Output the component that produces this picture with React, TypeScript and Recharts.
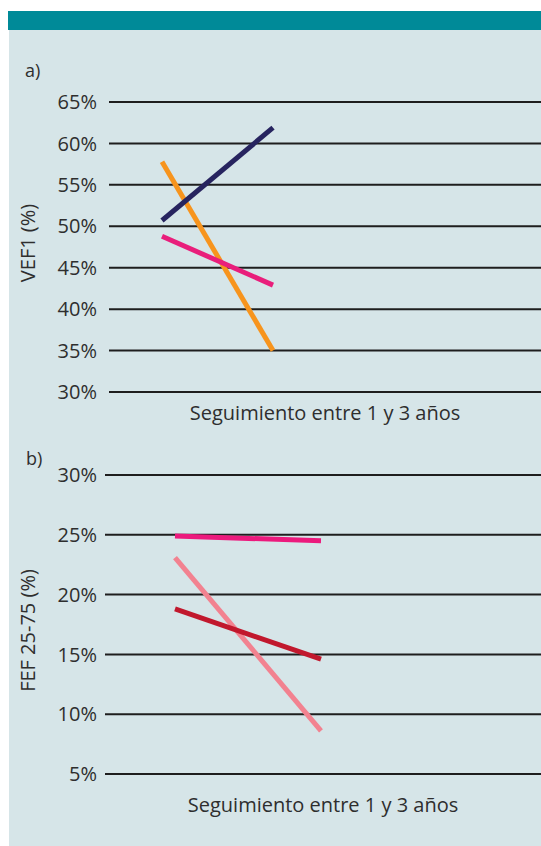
import { LineChart, Line, XAxis, YAxis, CartesianGrid } from 'recharts'

// follow-up points (start / end of the 1-3 year follow-up)
const periods = ['Inicio', 'Final']

// a) VEF1 (%)
const vefNavy = [50.7, 61.9]
const vefOrange = [57.8, 35.0]
const vefPink = [48.8, 42.9]
const vefTicks = [30, 35, 40, 45, 50, 55, 60, 65]

// b) FEF 25-75 (%)
const fefPink = [24.9, 24.5]
const fefLight = [23.1, 8.6]
const fefDark = [18.8, 14.6]
const fefTicks = [5, 10, 15, 20, 25, 30]

const FONT = '"Open Sans", Lato, sans-serif'
const TEXT = '#2e2e2e'
const BG = '#d6e5e8'

const vefData = periods.map((p, i) => ({ p, navy: vefNavy[i], orange: vefOrange[i], pink: vefPink[i] }))
const fefData = periods.map((p, i) => ({ p, pink: fefPink[i], light: fefLight[i], dark: fefDark[i] }))

const tickStyle = { fontSize: 20, fill: TEXT, fontFamily: FONT }
const titleStyle = { fontSize: 20, fill: TEXT, fontFamily: FONT }
const fmt = (v: number) => `${v}%`

const lineProps = {
  type: 'linear' as const,
  strokeWidth: 5,
  strokeLinecap: 'butt' as const,
  dot: false,
  activeDot: false,
  isAnimationActive: false,
}

export default function App() {
  return (
    <div style={{ position: 'absolute', left: 0, top: 0, width: 541, height: 846, fontFamily: FONT }}>
      <div style={{ position: 'absolute', left: 9, top: 30, width: 532, height: 816, background: BG }} />
      <div style={{ position: 'absolute', left: 8, top: 11, width: 533, height: 19, background: '#008a98' }} />
      <div style={{ position: 'absolute', left: 25, top: 58, fontSize: 18, color: TEXT }}>a)</div>
      <div style={{ position: 'absolute', left: 26, top: 446, fontSize: 18, color: TEXT }}>b)</div>

      <div style={{ position: 'absolute', left: 0, top: 60 }}>
        <LineChart width={541} height={400} data={vefData} margin={{ top: 42, right: 0, bottom: 26, left: 0 }}>
          <CartesianGrid vertical={false} stroke="#1e1e1e" strokeWidth={2} />
          <XAxis
            dataKey="p"
            tick={false}
            axisLine={false}
            tickLine={false}
            height={42}
            padding={{ left: 53, right: 268 }}
            label={{ value: 'Seguimiento entre 1 y 3 años', position: 'center', ...titleStyle }}
          />
          <YAxis
            width={109}
            domain={[30, 65]}
            ticks={vefTicks}
            tickFormatter={fmt}
            tick={tickStyle}
            axisLine={false}
            tickLine={false}
            tickSize={0}
            tickMargin={12}
            label={{ value: 'VEF1 (%)', angle: -90, position: 'center', dx: -27, dy: -4, ...titleStyle }}
          />
          <Line dataKey="orange" stroke="#f7941d" {...lineProps} />
          <Line dataKey="pink" stroke="#e91e7b" {...lineProps} />
          <Line dataKey="navy" stroke="#27245f" {...lineProps} />
        </LineChart>
      </div>

      <div style={{ position: 'absolute', left: 0, top: 440 }}>
        <LineChart width={541} height={406} data={fefData} margin={{ top: 35, right: 0, bottom: 10, left: 0 }}>
          <CartesianGrid vertical={false} stroke="#1e1e1e" strokeWidth={2} />
          <XAxis
            dataKey="p"
            tick={false}
            axisLine={false}
            tickLine={false}
            height={62}
            padding={{ left: 70, right: 220 }}
            label={{ value: 'Seguimiento entre 1 y 3 años', position: 'center', ...titleStyle }}
          />
          <YAxis
            width={105}
            domain={[5, 30]}
            ticks={fefTicks}
            tickFormatter={fmt}
            tick={tickStyle}
            axisLine={false}
            tickLine={false}
            tickSize={0}
            tickMargin={8}
            label={{ value: 'FEF 25-75 (%)', angle: -90, position: 'center', dx: -25, dy: 6, ...titleStyle }}
          />
          <Line dataKey="light" stroke="#f28290" {...lineProps} />
          <Line dataKey="dark" stroke="#c1182d" {...lineProps} />
          <Line dataKey="pink" stroke="#ec1a7d" {...lineProps} />
        </LineChart>
      </div>
    </div>
  )
}
